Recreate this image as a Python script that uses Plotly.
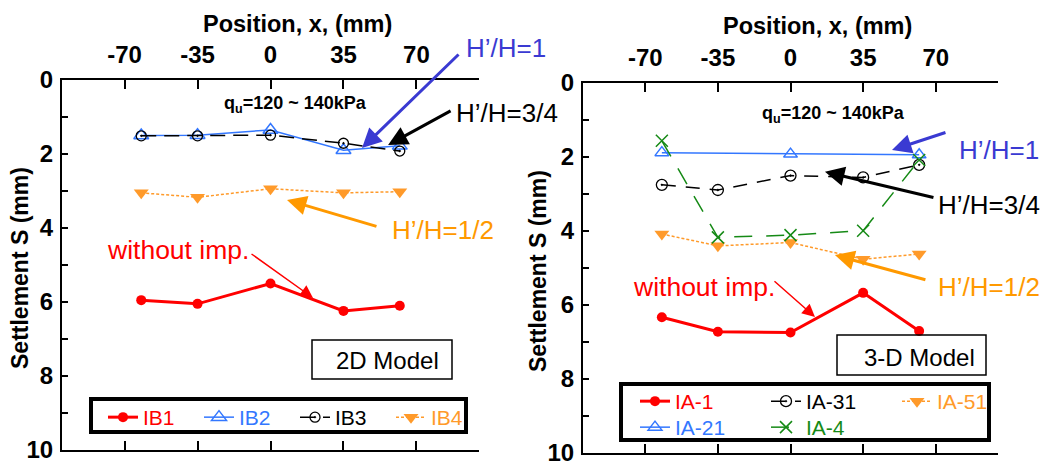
import plotly.graph_objects as go

W, H = 1050, 461
FONT = "Liberation Sans, Arial, sans-serif"

# ---------------- data ----------------
x_ticks = [-70, -35, 0, 35, 70]
x_ticktext = ["-70", "-35", "0", "35", "70"]
y_ticks = [0, 2, 4, 6, 8, 10]
y_minor = [1, 3, 5, 7, 9]

# 2D model
x_2d = [-62, -35, 0, 35, 62]
ib1 = [5.95, 6.05, 5.50, 6.24, 6.10]
ib2 = [1.50, 1.49, 1.35, 1.90, 1.78]
ib3 = [1.51, 1.51, 1.49, 1.71, 1.92]
ib4 = [3.05, 3.17, 2.94, 3.05, 3.02]

# 3-D model
x_3d = [-62, -35, 0, 35, 62]
ia1 = [6.34, 6.73, 6.75, 5.68, 6.71]
x_ia21 = [-62, 0, 62]
ia21 = [1.89, 1.93, 1.95]
ia31 = [2.76, 2.90, 2.51, 2.56, 2.22]
ia4 = [1.57, 4.18, 4.12, 4.00, 2.09]
ia51 = [4.09, 4.41, 4.32, 4.77, 4.63]

RED = "#ff0000"
BLUE = "#3377ff"
BLACK = "#000000"
ORANGE = "#ff9a2a"
GREEN = "#168a16"
INDIGO = "#3a3ad2"
ORANGE_T = "#ff9900"


def P(px, py):
    return px / W, 1 - py / H


def nm(text, color):
    return f"<span style='color:{color}'>{text}</span>"


fig = go.Figure()

# ---- left panel traces ----
fig.add_trace(go.Scatter(x=x_2d, y=ib1, mode="lines+markers", name=nm("IB1", RED),
                         line=dict(color=RED, width=3),
                         marker=dict(symbol="circle", size=10, color=RED),
                         xaxis="x", yaxis="y", legend="legend"))
fig.add_trace(go.Scatter(x=x_2d, y=ib2, mode="lines+markers", name=nm("IB2", BLUE),
                         line=dict(color=BLUE, width=1.5),
                         marker=dict(symbol="triangle-up-open", size=13, color=BLUE,
                                     line=dict(width=1.5, color=BLUE)),
                         xaxis="x", yaxis="y", legend="legend"))
fig.add_trace(go.Scatter(x=x_2d, y=ib3, mode="lines+markers", name=nm("IB3", BLACK),
                         line=dict(color=BLACK, width=1.5, dash="15px,8px"),
                         marker=dict(symbol="circle-open-dot", size=10, color=BLACK,
                                     line=dict(width=1.3, color=BLACK)),
                         xaxis="x", yaxis="y", legend="legend"))
fig.add_trace(go.Scatter(x=x_2d, y=ib4, mode="lines+markers", name=nm("IB4", ORANGE),
                         line=dict(color=ORANGE, width=1.5, dash="3px,2px"),
                         marker=dict(symbol="triangle-down", size=13, color=ORANGE),
                         xaxis="x", yaxis="y", legend="legend"))

# ---- right panel traces ----
fig.add_trace(go.Scatter(x=x_3d, y=ia1, mode="lines+markers", name=nm("IA-1", RED),
                         line=dict(color=RED, width=3),
                         marker=dict(symbol="circle", size=10, color=RED),
                         xaxis="x2", yaxis="y2", legend="legend2"))
fig.add_trace(go.Scatter(x=x_3d, y=ia31, mode="lines+markers", name=nm("IA-31", BLACK),
                         line=dict(color=BLACK, width=1.5, dash="14px,10px"),
                         marker=dict(symbol="circle-open-dot", size=11, color=BLACK,
                                     line=dict(width=1.3, color=BLACK)),
                         xaxis="x2", yaxis="y2", legend="legend2"))
fig.add_trace(go.Scatter(x=x_3d, y=ia51, mode="lines+markers", name=nm("IA-51", ORANGE),
                         line=dict(color=ORANGE, width=1.5, dash="3px,2px"),
                         marker=dict(symbol="triangle-down", size=13, color=ORANGE),
                         xaxis="x2", yaxis="y2", legend="legend2"))
fig.add_trace(go.Scatter(x=x_ia21, y=ia21, mode="lines+markers", name=nm("IA-21", BLUE),
                         line=dict(color=BLUE, width=1.5),
                         marker=dict(symbol="triangle-up-open", size=12, color=BLUE,
                                     line=dict(width=1.5, color=BLUE)),
                         xaxis="x2", yaxis="y2", legend="legend3"))
fig.add_trace(go.Scatter(x=x_3d, y=ia4, mode="lines+markers", name=nm("IA-4", GREEN),
                         line=dict(color=GREEN, width=1.5, dash="18px,14px"),
                         marker=dict(symbol="x-thin-open", size=12, color=GREEN,
                                     line=dict(width=1.5, color=GREEN)),
                         xaxis="x2", yaxis="y2", legend="legend3"))

# ---------------- axes ----------------
tickfont = dict(family=FONT, size=24, color="black", weight="bold")


def xax(domain, anchor):
    return dict(domain=domain, anchor=anchor, side="top", range=[-100, 100],
                tickvals=x_ticks, ticktext=x_ticktext, ticks="inside", ticklen=9,
                tickwidth=2, tickcolor="black", showline=True, linecolor="black",
                linewidth=2, mirror="ticks", showgrid=False, zeroline=False,
                tickfont=tickfont, ticklabelstandoff=5, automargin=False,
                ticklabeloverflow="allow")


def yax(domain, anchor):
    return dict(domain=domain, anchor=anchor, range=[10, 0], tickvals=y_ticks,
                ticks="inside", ticklen=6, tickwidth=2, tickcolor="black",
                minor=dict(tickvals=y_minor, ticks="inside", ticklen=6, tickwidth=2,
                           tickcolor="black", showgrid=False),
                showline=True, linecolor="black", linewidth=2, mirror=False,
                showgrid=False, zeroline=False, tickfont=tickfont,
                ticklabelstandoff=2, automargin=False, ticklabeloverflow="allow")


fig.update_layout(
    xaxis=xax([62 / W, 479 / W], "y"),
    yaxis=yax([1 - 450 / H, 1 - 80 / H], "x"),
    xaxis2=xax([583 / W, 998 / W], "y2"),
    yaxis2=yax([1 - 452.7 / H, 1 - 82.7 / H], "x2"),
)

# ---------------- legends ----------------
legfont = dict(family=FONT, size=21, color="black")
lx, ly = P(103, 397)
r1x, r1y = P(635, 381)
r2x, r2y = P(635, 407)
common = dict(orientation="h", xanchor="left", yanchor="top", bgcolor="rgba(0,0,0,0)",
              borderwidth=0, font=legfont, tracegroupgap=0)
fig.update_layout(
    legend=dict(x=lx, y=ly, entrywidth=51, **common),
    legend2=dict(x=r1x, y=r1y, entrywidth=86, **common),
    legend3=dict(x=r2x, y=r2y, entrywidth=86, **common),
    showlegend=True,
)

shapes = []


def rect(x0, y0, x1, y1, width, fill):
    a, b = P(x0, y0)
    c, d = P(x1, y1)
    shapes.append(dict(type="rect", xref="paper", yref="paper", x0=a, x1=c, y0=d, y1=b,
                       line=dict(color="black", width=width), fillcolor=fill, layer="above"))


rect(91, 399, 466, 432, 4, "white")
rect(621, 384, 989, 440, 4, "white")
rect(312, 340, 452, 379, 1.5, "rgba(0,0,0,0)")
rect(837, 335, 986, 375, 1.5, "rgba(0,0,0,0)")
fig.update_layout(shapes=shapes)

# ---------------- annotations ----------------
ann = []


def text(t, px, py, color="black", size=26, bold=False, xanchor="left", angle=0):
    x, y = P(px, py)
    f = dict(family=FONT, size=size, color=color)
    if bold:
        f["weight"] = "bold"
    ann.append(dict(text=t, x=x, y=y, xref="paper", yref="paper", xanchor=xanchor,
                    yanchor="middle", showarrow=False, font=f, textangle=angle))


def arrow(xr, yr, x, y, ax, ay, color, width=3, size=1.3):
    ann.append(dict(text="", x=x, y=y, xref=xr, yref=yr, ax=ax, ay=ay, axref="pixel",
                    ayref="pixel", showarrow=True, arrowhead=2, arrowsize=size,
                    arrowwidth=width, arrowcolor=color))


# titles
text("Position, x, (mm)", 297, 24, size=23.5, bold=True, xanchor="center")
text("Position, x, (mm)", 817, 26, size=23.5, bold=True, xanchor="center")
text("Settlement S (mm)", 20, 268, size=23, bold=True, xanchor="center", angle=-90)
text("Settlement S (mm)", 538, 271, size=23, bold=True, xanchor="center", angle=-90)

# left panel labels
qtxt = "q<sub>u</sub>=120 ~ 140kPa"
text(qtxt, 295, 104, size=18, bold=True, xanchor="center")
text("H’/H=1", 464, 48, color=INDIGO)
text("H’/H=3/4", 454, 113)
text("H’/H=1/2", 390, 230, color=ORANGE_T)
text("without imp.", 105, 250, color=RED, size=26.5)
text("2D Model", 387, 360, size=24, xanchor="center")

# right panel labels
text(qtxt, 833, 114, size=18, bold=True, xanchor="center")
text("H’/H=1", 957, 150, color=INDIGO)
text("H’/H=3/4", 936, 205)
text("H’/H=1/2", 936, 287, color=ORANGE_T)
text("without imp.", 631, 287, color=RED, size=26.5)
text("3-D Model", 919, 357, size=24, xanchor="center")

# arrows (tip in data units, tail offset in pixels)
arrow("x", "y", 43.9, 1.84, 98, -95, INDIGO)
arrow("x", "y", 56.4, 1.76, 64, -35, BLACK)
arrow("x", "y", 7.9, 3.24, 91, 27, ORANGE_T)
arrow("x", "y", 20.4, 5.89, -63, -45, RED, width=1.5, size=1.7)

arrow("x2", "y2", 48.9, 1.82, 55, -18, INDIGO)
arrow("x2", "y2", 16.6, 2.41, 110, 26, BLACK)
arrow("x2", "y2", 21.4, 4.66, 92, 25, ORANGE_T)
arrow("x2", "y2", 11.8, 6.33, -42, -37, RED, width=1.5, size=1.7)

fig.update_layout(annotations=ann)

fig.update_layout(width=W, height=H, margin=dict(l=0, r=0, t=0, b=0),
                  paper_bgcolor="white", plot_bgcolor="white",
                  font=dict(family=FONT))

fig.write_html("out.html")
